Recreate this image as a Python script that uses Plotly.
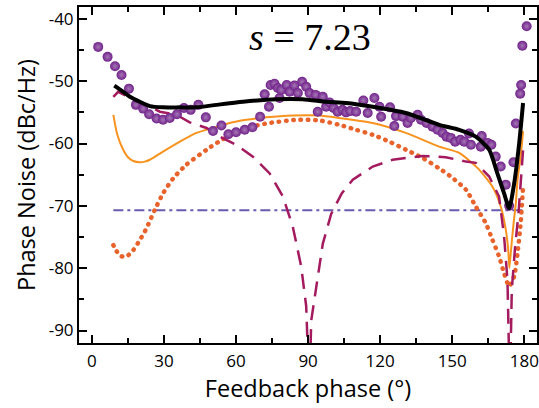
import plotly.graph_objects as go

# ---- data ----
meas_x = [2.6, 6.5, 9.6, 12.3, 15.4, 18.3, 21.3, 23.8, 26.9, 29.6, 32.4, 35.4, 38.3, 41.1, 44.3, 47.4,
          50.4, 53.9, 56.8, 60.0, 63.6, 66.8, 70.0, 71.9, 73.7, 74.4, 76.0, 77.4, 78.1, 78.8, 81.1, 82.3,
          84.3, 85.7, 87.5, 89.2, 90.6, 93.1, 94.0, 96.1, 97.5, 98.9, 100.6, 102.3, 104.3, 105.8, 107.5,
          110.0, 113.0, 114.8, 117.6, 119.7, 120.4, 124.1, 125.9, 126.6, 129.4, 131.4, 132.8, 135.6, 137.0,
          139.3, 141.8, 143.9, 146.0, 147.6, 149.4, 151.2, 153.4, 155.0, 157.0, 157.8, 161.9, 162.3, 164.7,
          166.3, 168.1, 170.2, 172.3, 173.7, 175.5, 176.5, 178.3, 178.7, 179.2, 181.0]
meas_y = [-44.5, -46.1, -47.6, -49.0, -51.2, -53.8, -54.4, -55.3, -56.0, -56.2, -55.9, -55.3, -54.3, -54.6, -53.8, -55.8,
          -58.0, -57.1, -58.5, -58.2, -57.8, -57.4, -55.7, -52.1, -54.1, -50.6, -50.4, -51.1, -52.7, -51.4, -50.6, -51.7,
          -50.7, -51.9, -50.1, -50.9, -51.9, -52.2, -54.9, -52.5, -54.1, -53.4, -54.3, -54.9, -54.6, -55.0, -54.8,
          -54.9, -53.1, -55.1, -52.7, -54.1, -55.7, -54.2, -57.2, -55.6, -55.7, -56.7, -55.9, -55.4, -56.2,
          -56.7, -57.3, -57.8, -58.3, -58.9, -59.1, -59.7, -59.4, -59.7, -58.4, -60.2, -60.5, -58.8, -59.9,
          -60.2, -62.1, -63.7, -66.6, -70.0, -63.0, -56.8, -52.0, -50.6, -44.3, -41.2]

total_x = [9.3, 12.3, 15.8, 19.9, 24.1, 29.6, 36.6, 43.5, 51.8, 62.9, 76.7, 87.7, 97.5, 105.8, 116.9, 130.7,
           144.6, 152.9, 159.8, 165.4, 168.8, 171.6, 173.7, 175.8, 177.9, 179.5]
total_y = [-50.7, -51.5, -52.5, -53.3, -54.0, -54.2, -54.2, -54.2, -53.8, -53.3, -52.9, -52.9, -53.3, -53.5, -54.1, -55.1,
           -57.0, -57.8, -58.9, -61.0, -64.8, -68.0, -70.4, -66.4, -59.9, -53.5]

orange_x = [8.9, 10.5, 13.0, 15.0, 17.2, 19.9, 22.0, 24.1, 29.6, 36.6, 43.5, 50.4, 57.3, 64.3, 72.6, 83.6, 94.7,
            103.0, 116.9, 130.7, 144.6, 152.9, 160.5, 166.7, 170.2, 172.3, 173.3, 173.8, 174.5, 175.5, 176.5,
            177.2, 178.5, 179.5]
orange_y = [-55.4, -58.5, -61.0, -62.2, -62.8, -63.0, -62.9, -62.6, -61.3, -59.7, -58.3, -57.5, -56.7, -56.2, -55.8, -55.5, -55.5,
            -55.9, -56.7, -58.3, -60.5, -61.5, -63.9, -66.9, -70.1, -73.8, -77.0, -80.0, -77.0, -73.0, -69.5,
            -65.8, -62.0, -58.0]

dotted_x = [8.9, 10.3, 11.7, 14.1, 17.2, 19.9, 22.7, 26.2, 29.6, 33.8, 39.3, 47.7, 54.6, 64.3, 74.0, 85.1, 94.7,
            103.0, 110.0, 116.9, 123.8, 130.7, 137.6, 144.6, 149.4, 155.7, 159.8, 164.0, 166.7, 169.5, 171.6,
            173.7, 175.8, 177.2, 178.5, 179.5]
dotted_y = [-76.3, -77.3, -78.0, -78.2, -77.1, -75.5, -73.6, -70.6, -68.0, -65.6, -63.4, -61.0, -59.3, -57.5, -56.7, -56.2, -56.3,
            -57.0, -57.8, -58.6, -59.7, -61.0, -62.3, -64.0, -65.3, -67.4, -70.1, -72.8, -75.4, -78.1, -80.8,
            -82.9, -81.3, -77.6, -72.8, -67.0]

dashed_x = [8.9, 10.9, 14.0, 19.9, 28.3, 35.2, 40.7, 47.7, 53.2, 60.1, 67.0, 74.0, 79.5, 83.6, 87.1, 89.2, 90.5,
            91.3, 93.4, 96.1, 99.6, 104.0, 108.6, 116.9, 125.2, 137.6, 147.3, 155.7, 159.8, 165.4, 169.5, 171.6,
            173.0, 173.4, 174.0, 174.8, 176.2, 177.6, 179.5]
dashed_y = [-52.5, -51.7, -52.3, -53.3, -54.9, -55.4, -56.6, -57.5, -58.9, -60.2, -62.1, -64.8, -68.5, -73.3, -79.7, -86.1, -100.0,
            -88.4, -83.0, -76.1, -71.3, -68.0, -65.8, -63.7, -62.6, -62.0, -62.2, -62.9, -63.1, -65.3, -68.5, -74.9,
            -81.9, -88.3, -100.0, -83.5, -76.5, -71.2, -61.0]

floor_x = [8.9, 179.2]
floor_y = [-70.7, -70.7]

x_ticks = [0, 30, 60, 90, 120, 150, 180]
y_ticks = [-40, -50, -60, -70, -80, -90]
label_text = "<i>s</i> = 7.23"

# ---- figure ----
fig = go.Figure()
fig.add_trace(go.Scatter(x=floor_x, y=floor_y, mode="lines",
                         line=dict(color="#6A5AAD", width=2, dash="10px,4px,3px,4px")))
fig.add_trace(go.Scatter(x=dotted_x, y=dotted_y, mode="lines",
                         line=dict(color="#E8632B", width=4.5, dash="0.5px,6.8px", shape="spline", smoothing=0.6)))
fig.add_trace(go.Scatter(x=orange_x, y=orange_y, mode="lines",
                         line=dict(color="#F7931E", width=2, shape="spline", smoothing=0.6)))
fig.add_trace(go.Scatter(x=dashed_x, y=dashed_y, mode="lines",
                         line=dict(color="#A31A5F", width=2.5, dash="15px,9px")))
fig.add_trace(go.Scatter(x=meas_x, y=meas_y, mode="markers",
                         marker=dict(color="#71238A", size=10, line=dict(width=0),
                                     gradient=dict(type="radial", color="#A677B6"))))
fig.add_trace(go.Scatter(x=total_x, y=total_y, mode="lines",
                         line=dict(color="black", width=4, shape="spline", smoothing=0.6)))

axis_common = dict(showline=True, linecolor="black", linewidth=2, mirror="ticks",
                   ticks="inside", ticklen=8, tickwidth=2, tickcolor="black",
                   showgrid=False, zeroline=False, automargin=False,
                   tickfont=dict(family="Open Sans", size=17, color="black"))

fig.update_xaxes(range=[-5.4, 185.3], tickvals=x_ticks, ticktext=[str(v) for v in x_ticks],
                 minor=dict(ticks="inside", ticklen=5, tickwidth=2, tickcolor="black", dtick=15, tick0=0),
                 title=dict(text="Feedback phase (°)", font=dict(family="Open Sans", size=23.5, color="black"),
                            standoff=6),
                 ticklabelstandoff=2,
                 **axis_common)
fig.update_yaxes(range=[-92, -38.1], tickvals=y_ticks, ticktext=[str(v) for v in y_ticks],
                 minor=dict(ticks="inside", ticklen=5, tickwidth=2, tickcolor="black", dtick=5, tick0=0),
                 title=dict(text="Phase Noise (dBc/Hz)", font=dict(family="Open Sans", size=23.5, color="black"),
                            standoff=6),
                 **axis_common)

fig.add_annotation(text=label_text, xref="paper", yref="paper", x=0.505, y=0.91,
                   xanchor="center", yanchor="middle",
                   showarrow=False, font=dict(family="Liberation Serif", size=38, color="black"))

fig.update_layout(width=539, height=408, margin=dict(l=79, r=2, t=7, b=65),
                  plot_bgcolor="white", paper_bgcolor="white", showlegend=False)

post = """
document.body.style.margin='0';document.body.style.overflow='hidden';
function roundDots(){
  var tr = document.querySelectorAll('.scatterlayer .trace');
  if (tr.length > 1) {
    tr[1].querySelectorAll('path.js-line').forEach(function(p){ p.style.strokeLinecap='round'; });
  }
}
roundDots(); setTimeout(roundDots, 0); setTimeout(roundDots, 200);
"""
fig.write_html("out.html", post_script=post, config={"displayModeBar": False})
